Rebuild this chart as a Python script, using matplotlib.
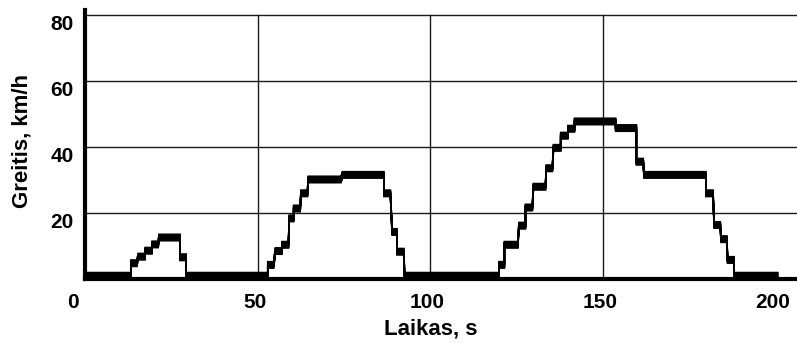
import numpy as np
import matplotlib
matplotlib.use("Agg")
import matplotlib.pyplot as plt
import matplotlib.transforms as mtransforms

plt.rcParams['font.family'] = ['Liberation Sans', 'DejaVu Sans']
plt.rcParams['font.weight'] = 'bold'

# speed trace: each plateau is (start time, end time, speed)
t_start = [0.0, 13.3, 15.4, 17.4, 19.4, 21.4, 27.5,
           29.3, 52.9, 55.1, 57.0, 59.1, 60.4, 62.5, 64.6, 74.5, 86.5, 88.9, 90.3,
           92.5, 119.8, 121.4, 125.6, 127.5, 129.8, 133.5, 135.6, 137.7, 139.8,
           141.7, 153.6, 159.6, 161.8, 179.7, 182.1, 184.1, 186.0, 187.9]
t_end = [13.3, 15.0, 17.4, 19.4, 21.2, 27.5, 29.3,
         52.9, 54.6, 57.0, 58.9, 60.4, 62.3, 64.4, 74.1, 86.5, 88.4, 90.3, 92.3,
         119.8, 121.4, 125.3, 127.5, 129.5, 133.3, 135.3, 137.7, 139.8, 141.7,
         153.6, 159.6, 161.6, 179.7, 181.8, 183.9, 185.8, 187.9, 200.5]
speed = [0.0, 3.8, 5.8, 7.6, 9.5, 11.6, 5.6,
         0.0, 3.3, 7.5, 9.4, 17.4, 20.4, 25.0, 29.2, 30.6, 25.0, 13.3, 7.3,
         0.0, 3.3, 9.4, 15.2, 20.7, 27.0, 32.6, 38.8, 42.5, 44.6,
         46.8, 44.8, 34.6, 30.6, 25.0, 15.4, 11.1, 4.8, 0.0]

xticks = [0, 50, 100, 150, 200]
yticks = [20, 40, 60, 80]

t = []
v = []
for a, b, s in zip(t_start, t_end, speed):
    t += [a, b]
    v += [s, s]

fig = plt.figure(figsize=(7.97, 3.43), dpi=100)
ax = fig.add_axes([85/797, 64/343, 712/797, 269/343])
ax.set_xlim(0, 206.1)
ax.set_ylim(0, 81.6)

# grid drawn only inside 0..80
for y in yticks:
    ax.plot([0, 206.1], [y, y], color='#1a1a1a', lw=1.0, zorder=1)
for x in [50, 100, 150]:
    ax.plot([x, x], [0, 80], color='#1a1a1a', lw=1.0, zorder=1)

# thick "pen": same trace stacked with small upward pixel shifts
for k in np.arange(0, 7.0, 0.5):
    off = mtransforms.ScaledTranslation(0, k/100, fig.dpi_scale_trans)
    ax.plot(t, v, color='black', lw=1.1, transform=ax.transData + off,
            solid_joinstyle='miter', zorder=3)

for side in ['top', 'right']:
    ax.spines[side].set_visible(False)
ax.spines['left'].set_linewidth(3.0)
ax.spines['bottom'].set_linewidth(3.0)
ax.spines['left'].set_zorder(4)
ax.spines['bottom'].set_zorder(4)

ax.set_xticks(xticks)
ax.set_yticks(yticks)
ax.tick_params(length=0, labelsize=15)
ax.tick_params(axis='x', pad=10)
ax.tick_params(axis='y', pad=8)
for lab in ax.get_yticklabels():
    lab.set_fontweight('bold')
    lab.set_transform(lab.get_transform() +
                      mtransforms.ScaledTranslation(0, -7/100, fig.dpi_scale_trans))
xlabs = ax.get_xticklabels()
for lab in xlabs:
    lab.set_fontweight('bold')
    lab.set_transform(lab.get_transform() +
                      mtransforms.ScaledTranslation(-3/100, 0, fig.dpi_scale_trans))
xlabs[0].set_transform(xlabs[0].get_transform() +
                       mtransforms.ScaledTranslation(-9/100, 0, fig.dpi_scale_trans))

ax.set_xlabel('Laikas, s', fontsize=16, fontweight='bold', va='center')
ax.xaxis.set_label_coords(0.486, -50/269)
ax.set_ylabel('Greitis, km/h', fontsize=16, fontweight='bold', va='center')
ax.yaxis.set_label_coords(-63/712, 138/269)

fig.savefig('out.png', dpi=100)
